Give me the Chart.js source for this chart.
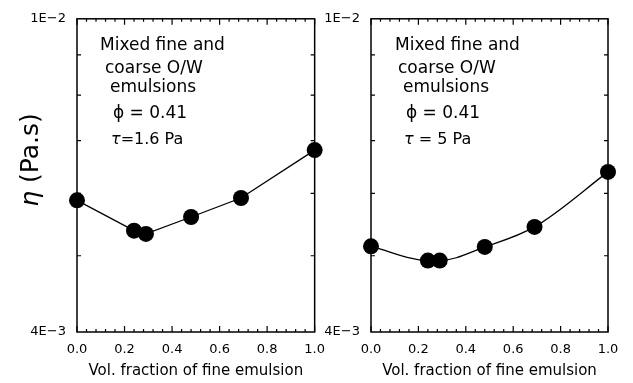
<!DOCTYPE html>
<html>
<head>
<meta charset="utf-8">
<script src="https://cdn.jsdelivr.net/npm/chart.js@4.4.1/dist/chart.umd.min.js"></script>
<style>
    html, body { margin: 0; padding: 0; background: #fff; }
    #wrap { position: relative; width: 633px; height: 383px; overflow: hidden; }
    canvas { position: absolute; top: 0; }
</style>
</head>
<body>
<div id="wrap">
    <canvas id="panel-left" width="335" height="383" style="left:0"></canvas>
    <canvas id="panel-right" width="311" height="383" style="left:322px"></canvas>
</div>
<script>
// volume fraction of fine emulsion (x) for both panels
const fineFraction = [0.0, 0.24, 0.29, 0.48, 0.69, 1.0];
// viscosity (Pa.s) at tau = 1.6 Pa
const viscosityLowStress = [5.88e-3, 5.38e-3, 5.33e-3, 5.60e-3, 5.92e-3, 6.81e-3];
// viscosity (Pa.s) at tau = 5 Pa
const viscosityHighStress = [5.14e-3, 4.93e-3, 4.93e-3, 5.13e-3, 5.44e-3, 6.39e-3];

const xTickValues = [0.0, 0.2, 0.4, 0.6, 0.8, 1.0];
const yRange = [4e-3, 1e-2];
const yLabelled = [4e-3, 1e-2];
const yTickText = ['4E\u22123', '1E\u22122'];
const yMinorTicks = [5e-3, 6e-3, 7e-3, 8e-3, 9e-3];

const noteLines = ['Mixed fine and', 'coarse O/W', 'emulsions', '\u03d5 = 0.41'];
const stressLabels = ['=1.6 Pa', ' = 5 Pa'];

const FONT = "'DejaVu Sans', sans-serif";

// box, inward ticks and the text block inside each panel
const framePlugin = {
    id: 'frame',
    beforeDatasetsDraw(chart) {
        const { ctx, chartArea: a, scales: { x, y } } = chart;
        ctx.save();
        ctx.strokeStyle = '#000';
        ctx.lineWidth = 1.5;
        ctx.strokeRect(a.left, a.top, a.right - a.left, a.bottom - a.top);
        ctx.lineWidth = 1.2;
        ctx.beginPath();
        for (let i = 0; i <= 25; i++) {
            const px = x.getPixelForValue(i * 0.04);
            const len = i % 5 === 0 ? 6 : 3;
            ctx.moveTo(px, a.bottom); ctx.lineTo(px, a.bottom - len);
            ctx.moveTo(px, a.top); ctx.lineTo(px, a.top + len);
        }
        yMinorTicks.forEach(v => {
            const py = y.getPixelForValue(v);
            ctx.moveTo(a.left, py); ctx.lineTo(a.left + 4, py);
            ctx.moveTo(a.right, py); ctx.lineTo(a.right - 4, py);
        });
        ctx.stroke();
        ctx.restore();
    },
    afterDraw(chart, args, opts) {
        const { ctx, chartArea: a } = chart;
        ctx.save();
        ctx.fillStyle = '#000';
        ctx.textBaseline = 'alphabetic';
        ctx.font = `17px ${FONT}`;
        const dx = opts.noteDx;
        const base = [31, 54, 73, 99];
        noteLines.forEach((t, i) => ctx.fillText(t, a.left + dx[i], a.top + base[i]));
        // tau line: italic tau then the rest
        ctx.font = `italic 16px ${FONT}`;
        const tx = a.left + dx[4], ty = a.top + 125;
        ctx.fillText('\u03c4', tx, ty);
        const w = ctx.measureText('\u03c4').width;
        ctx.font = `16px ${FONT}`;
        ctx.fillText(opts.stress, tx + w, ty);

        if (opts.yTitle) {
            ctx.translate(31, 160);
            ctx.rotate(-Math.PI / 2);
            ctx.textAlign = 'left';
            ctx.textBaseline = 'middle';
            const eta = '\u03b7';
            const rest = ' (Pa.s)';
            ctx.font = `25px ${FONT}`;
            const wr = ctx.measureText(rest).width;
            ctx.font = `italic 25px ${FONT}`;
            const we = ctx.measureText(eta).width;
            const start = -(we + wr) / 2;
            ctx.fillText(eta, start, 0);
            ctx.font = `25px ${FONT}`;
            ctx.fillText(rest, start + we, 0);
        }
        ctx.restore();
    }
};

function makePanel(id, values, smooth, opts) {
    return new Chart(document.getElementById(id), {
        type: 'line',
        data: {
            datasets: [{
                data: fineFraction.map((f, i) => ({ x: f, y: values[i] })),
                borderColor: '#000',
                backgroundColor: '#000',
                borderWidth: 1.3,
                pointRadius: 8,
                pointBackgroundColor: '#000',
                pointBorderWidth: 0,
                tension: smooth ? 0.4 : 0,
                cubicInterpolationMode: smooth ? 'monotone' : 'default',
                clip: false
            }]
        },
        options: {
            responsive: false,
            animation: false,
            devicePixelRatio: 1,
            layout: { padding: { top: 15, right: opts.padRight, left: 0, bottom: 0 } },
            plugins: {
                legend: { display: false },
                tooltip: { enabled: false },
                frame: { noteDx: opts.noteDx, stress: opts.stress, yTitle: opts.yTitle }
            },
            scales: {
                x: {
                    type: 'linear',
                    min: 0, max: 1,
                    afterBuildTicks: s => { s.ticks = xTickValues.map(v => ({ value: v })); },
                    afterFit: s => { s.height = 51; },
                    grid: { display: false, drawTicks: false },
                    border: { display: false },
                    ticks: {
                        color: '#000',
                        font: { family: FONT, size: 13 },
                        padding: 10,
                        maxRotation: 0,
                        callback: v => Number(v).toFixed(1)
                    },
                    title: {
                        display: true,
                        text: 'Vol. fraction of fine emulsion',
                        color: '#000',
                        font: { family: FONT, size: 15 },
                        padding: { top: 0, bottom: 3 }
                    }
                },
                y: {
                    type: 'logarithmic',
                    min: yRange[0], max: yRange[1],
                    afterBuildTicks: s => { s.ticks = yLabelled.map(v => ({ value: v })); },
                    afterFit: s => { s.width = opts.yWidth; },
                    grid: { display: false, drawTicks: false },
                    border: { display: false },
                    ticks: {
                        color: '#000',
                        font: { family: FONT, size: 13 },
                        padding: 11,
                        callback: v => yTickText[yLabelled.indexOf(v)] ?? ''
                    }
                }
            }
        },
        plugins: [framePlugin]
    });
}

makePanel('panel-left', viscosityLowStress, false, {
    padRight: 20, yWidth: 77, noteDx: [23, 28, 33, 36, 34], stress: stressLabels[0], yTitle: true
});
makePanel('panel-right', viscosityHighStress, true, {
    padRight: 25, yWidth: 49, noteDx: [24, 27, 32, 35, 33], stress: stressLabels[1], yTitle: false
});
</script>
</body>
</html>
